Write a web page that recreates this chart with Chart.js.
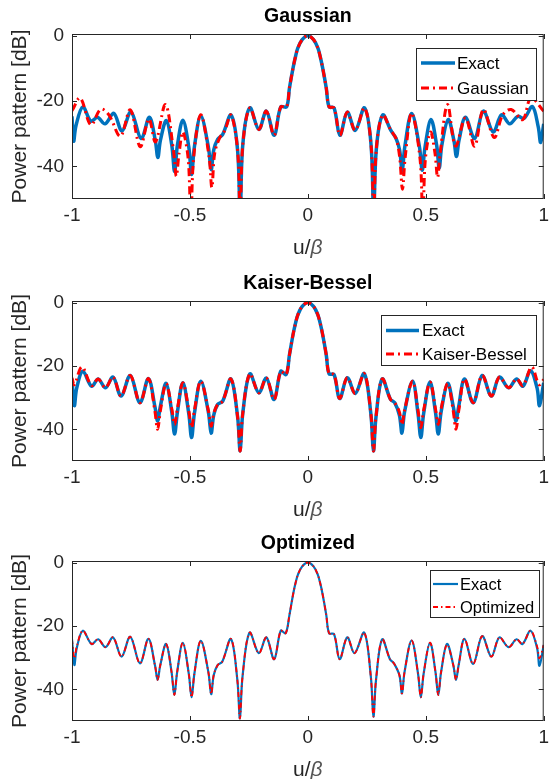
<!DOCTYPE html>
<html>
<head>
<meta charset="utf-8">
<script src="https://cdn.jsdelivr.net/npm/chart.js@4.4.1/dist/chart.umd.min.js"></script>
<style>
  html, body { margin: 0; padding: 0; background: #fff; }
  #wrap { position: relative; width: 554px; height: 779px; }
  canvas { position: absolute; left: 0; }
</style>
</head>
<body>
<div id="wrap">
  <canvas id="cGauss" width="554" height="262" style="top:0px"></canvas>
  <canvas id="cKaiser" width="554" height="260" style="top:262px"></canvas>
  <canvas id="cOpt" width="554" height="257" style="top:522px"></canvas>
</div>
<script>
// tick values (u/beta and dB)
const uTicks = [-1, -0.5, 0, 0.5, 1];
const dbTicks = [-40, -20, 0];

// [u/beta, dB]
const gaussExact = [
  [-1.000,-24.7],[-0.993,-32.3],[-0.983,-27.5],[-0.954,-21.8],[-0.920,-26.2],[-0.892,-25.0],
  [-0.860,-27.0],[-0.823,-23.8],[-0.788,-29.2],[-0.750,-23.3],[-0.707,-31.5],[-0.672,-25.0],
  [-0.647,-32.0],[-0.636,-37.3],[-0.625,-32.0],[-0.600,-26.0],[-0.577,-33.5],[-0.565,-41.6],
  [-0.553,-33.5],[-0.530,-25.9],[-0.505,-34.0],[-0.493,-42.5],[-0.481,-34.0],[-0.454,-24.6],
  [-0.422,-34.0],[-0.410,-41.0],[-0.399,-35.0],[-0.382,-31.7],[-0.361,-30.2],[-0.326,-24.3],
  [-0.298,-35.0],[-0.287,-56.0],[-0.276,-33.5],[-0.246,-22.1],[-0.208,-28.7],[-0.176,-23.1],
  [-0.143,-30.5],[-0.115,-21.8],[-0.090,-21.8],[-0.078,-16.0],[-0.0625,-9.8],[-0.052,-6.3],
  [-0.042,-3.7],[-0.024,-1.2],[0,0],[0.024,-1.2],[0.042,-3.7],[0.052,-6.3],[0.0625,-9.8],
  [0.078,-16.0],[0.090,-21.8],[0.111,-22.1],[0.136,-30.5],[0.167,-23.4],[0.201,-29.0],
  [0.240,-22.1],[0.268,-33.5],[0.279,-56.0],[0.290,-35.0],[0.317,-24.3],[0.352,-29.0],
  [0.374,-31.5],[0.389,-35.0],[0.400,-41.4],[0.411,-34.0],[0.440,-23.8],[0.473,-34.0],
  [0.485,-41.2],[0.497,-34.0],[0.522,-25.7],[0.546,-33.5],[0.557,-40.5],[0.568,-33.5],
  [0.595,-25.7],[0.619,-32.0],[0.630,-37.0],[0.641,-32.0],[0.668,-25.0],[0.707,-31.5],
  [0.744,-23.1],[0.786,-29.5],[0.821,-24.2],[0.856,-27.0],[0.890,-24.7],[0.917,-25.3],
  [0.952,-21.7],[0.977,-28.0],[0.987,-32.7],[1.000,-27.0]
];
const gaussApprox = [
  [-1.000,-23.0],[-0.965,-19.1],[-0.920,-27.3],[-0.878,-22.5],[-0.843,-24.3],[-0.795,-30.8],
  [-0.753,-22.7],[-0.711,-34.0],[-0.674,-25.5],[-0.646,-32.5],
  [-0.604,-21.1],[-0.570,-35.0],[-0.558,-43.0],[-0.546,-36.0],[-0.530,-29.5],[-0.507,-38.0],
  [-0.496,-58.0],[-0.485,-38.0],[-0.454,-24.2],[-0.419,-37.0],[-0.407,-46.5],[-0.395,-36.0],
  [-0.374,-31.3],[-0.352,-29.0],[-0.326,-24.3],[-0.298,-35.0],[-0.287,-56.0],[-0.276,-33.5],
  [-0.246,-22.1],[-0.208,-28.7],[-0.176,-23.1],[-0.143,-30.5],[-0.115,-21.8],[-0.090,-21.8],
  [-0.078,-16.0],[-0.0625,-9.8],[-0.052,-6.3],[-0.042,-3.7],[-0.024,-1.2],[0,0],[0.024,-1.2],
  [0.042,-3.7],[0.052,-6.3],[0.0625,-9.8],[0.078,-16.0],[0.090,-21.8],[0.111,-22.1],
  [0.136,-30.5],[0.167,-23.4],[0.201,-29.0],[0.240,-22.1],[0.268,-33.5],[0.279,-56.0],
  [0.290,-35.0],[0.317,-24.3],[0.352,-29.0],[0.374,-31.5],[0.389,-37.0],[0.401,-47.0],
  [0.413,-37.0],[0.440,-23.7],[0.476,-38.0],[0.487,-58.0],[0.498,-38.0],[0.520,-29.5],
  [0.539,-36.0],[0.550,-43.4],[0.561,-36.0],[0.592,-21.1],[0.626,-33.8],[0.668,-25.2],
  [0.707,-33.8],[0.744,-22.6],[0.790,-31.2],[0.826,-24.3],[0.862,-22.6],[0.911,-25.7],
  [0.946,-19.1],[1.000,-23.1]
];

const kaiserExact = [
  [-1.000,-24.3],[-0.990,-32.5],[-0.980,-27.0],[-0.954,-21.7],[-0.917,-26.4],[-0.889,-24.1],
  [-0.858,-26.9],[-0.826,-23.5],[-0.792,-29.5],[-0.753,-23.0],[-0.712,-31.6],[-0.676,-24.0],
  [-0.648,-33.0],[-0.637,-37.4],[-0.626,-33.0],[-0.601,-25.5],[-0.577,-34.5],[-0.565,-41.5],
  [-0.553,-34.5],[-0.530,-25.3],[-0.505,-35.0],[-0.493,-42.6],[-0.481,-35.0],[-0.454,-24.8],
  [-0.422,-34.5],[-0.410,-41.2],[-0.399,-35.5],[-0.382,-32.1],[-0.361,-31.1],[-0.326,-24.1],
  [-0.298,-36.0],[-0.287,-46.8],[-0.276,-35.0],[-0.246,-22.5],[-0.208,-28.5],[-0.176,-23.8],
  [-0.143,-30.6],[-0.115,-21.7],[-0.092,-22.7],[-0.078,-16.5],[-0.0625,-10.0],[-0.052,-6.4],
  [-0.042,-3.8],[-0.024,-1.2],[0,0],[0.024,-1.2],[0.042,-3.8],[0.052,-6.4],[0.0625,-10.0],
  [0.078,-16.5],[0.090,-22.5],[0.111,-22.7],[0.135,-30.3],[0.167,-23.7],[0.201,-28.7],
  [0.239,-22.4],[0.267,-35.0],[0.278,-46.8],[0.289,-36.0],[0.315,-24.1],[0.350,-30.5],
  [0.368,-31.6],[0.388,-35.5],[0.399,-41.2],[0.410,-34.5],[0.444,-24.8],[0.467,-35.0],
  [0.479,-42.6],[0.491,-35.0],[0.518,-25.1],[0.541,-34.5],[0.553,-41.5],[0.565,-34.5],
  [0.593,-25.5],[0.617,-33.0],[0.628,-37.4],[0.639,-33.0],[0.664,-24.1],[0.701,-31.6],
  [0.739,-23.0],[0.778,-29.5],[0.812,-23.5],[0.851,-26.9],[0.885,-24.1],[0.912,-26.4],
  [0.944,-21.5],[0.972,-27.0],[0.982,-32.5],[1.000,-25.3]
];
const kaiserApprox = [
  [-1.000,-23.8],[-0.990,-25.9],[-0.958,-20.3],[-0.917,-26.2],[-0.889,-24.1],
  [-0.858,-26.9],[-0.826,-23.5],[-0.792,-29.5],[-0.753,-23.0],[-0.712,-31.6],[-0.676,-24.0],
  [-0.649,-34.0],[-0.637,-40.0],[-0.625,-34.0],[-0.601,-25.5],[-0.577,-33.5],[-0.565,-38.5],
  [-0.553,-33.5],[-0.530,-25.3],[-0.505,-34.0],[-0.493,-39.5],[-0.481,-34.0],[-0.454,-24.8],
  [-0.422,-34.0],[-0.410,-39.0],[-0.399,-35.0],[-0.382,-32.1],[-0.361,-31.1],[-0.326,-24.1],
  [-0.298,-36.0],[-0.287,-46.8],[-0.276,-35.0],[-0.246,-22.5],[-0.208,-28.5],[-0.176,-23.8],
  [-0.143,-30.6],[-0.115,-21.7],[-0.092,-22.7],[-0.078,-16.5],[-0.0625,-10.0],[-0.052,-6.4],
  [-0.042,-3.8],[-0.024,-1.2],[0,0],[0.024,-1.2],[0.042,-3.8],[0.052,-6.4],[0.0625,-10.0],
  [0.078,-16.5],[0.090,-22.5],[0.111,-22.7],[0.135,-30.3],[0.167,-23.7],[0.201,-28.7],
  [0.239,-22.4],[0.267,-35.0],[0.278,-46.8],[0.289,-36.0],[0.315,-24.1],[0.350,-30.5],
  [0.368,-31.6],[0.388,-34.5],[0.399,-38.5],[0.410,-34.0],[0.444,-24.8],[0.467,-34.0],
  [0.479,-39.5],[0.491,-34.0],[0.518,-25.1],[0.541,-33.5],[0.553,-38.5],[0.565,-33.5],
  [0.593,-25.5],[0.616,-34.0],[0.628,-40.0],[0.640,-34.0],[0.664,-24.1],[0.701,-31.6],
  [0.739,-23.0],[0.778,-29.5],[0.812,-23.5],[0.851,-26.9],[0.885,-24.1],[0.912,-26.2],
  [0.949,-20.3],[0.980,-25.9],[1.000,-24.3]
];

const optExact = [
  [-1.000,-24.2],[-0.990,-32.3],[-0.980,-27.0],[-0.954,-21.5],[-0.917,-25.7],[-0.889,-24.2],
  [-0.858,-26.7],[-0.826,-23.6],[-0.790,-29.7],[-0.753,-23.4],[-0.712,-31.8],[-0.676,-24.1],
  [-0.648,-32.5],[-0.637,-37.0],[-0.626,-32.5],[-0.601,-25.7],[-0.578,-34.5],[-0.566,-41.8],
  [-0.554,-34.5],[-0.530,-25.3],[-0.505,-35.0],[-0.493,-42.5],[-0.481,-35.0],[-0.454,-24.7],
  [-0.422,-34.5],[-0.410,-41.5],[-0.399,-35.5],[-0.382,-32.3],[-0.363,-31.3],[-0.326,-24.1],
  [-0.299,-37.0],[-0.288,-49.2],[-0.277,-36.0],[-0.247,-22.1],[-0.208,-28.6],[-0.176,-23.6],
  [-0.143,-30.5],[-0.115,-21.5],[-0.094,-22.3],[-0.078,-16.5],[-0.0625,-10.0],[-0.052,-6.4],
  [-0.042,-3.8],[-0.024,-1.2],[0,0],[0.024,-1.2],[0.042,-3.8],[0.052,-6.4],[0.0625,-10.0],
  [0.078,-16.5],[0.090,-22.3],[0.111,-22.6],[0.135,-30.5],[0.167,-23.6],[0.198,-28.6],
  [0.239,-22.1],[0.267,-36.0],[0.278,-48.6],[0.289,-37.0],[0.315,-24.2],[0.348,-30.5],
  [0.365,-31.8],[0.388,-35.5],[0.399,-41.3],[0.410,-34.5],[0.440,-24.6],[0.467,-35.0],
  [0.479,-42.5],[0.491,-35.0],[0.518,-25.3],[0.541,-34.5],[0.553,-41.8],[0.565,-34.5],
  [0.590,-25.7],[0.617,-32.5],[0.628,-37.0],[0.639,-32.5],[0.664,-24.1],[0.701,-32.0],
  [0.739,-23.2],[0.778,-29.7],[0.812,-23.6],[0.851,-26.7],[0.885,-24.2],[0.910,-25.7],
  [0.944,-21.5],[0.972,-27.0],[0.982,-32.6],[1.000,-26.0]
];
const optApprox = [
  [-1.000,-24.2],[-0.990,-30.2],[-0.980,-26.5],[-0.954,-21.5],[-0.917,-25.7],[-0.889,-24.2],
  [-0.858,-26.7],[-0.826,-23.6],[-0.790,-29.7],[-0.753,-23.4],[-0.712,-31.8],[-0.676,-24.1],
  [-0.648,-32.5],[-0.637,-37.0],[-0.626,-32.5],[-0.601,-25.7],[-0.578,-34.5],[-0.566,-41.8],
  [-0.554,-34.5],[-0.530,-25.3],[-0.505,-35.0],[-0.493,-42.5],[-0.481,-35.0],[-0.454,-24.7],
  [-0.422,-34.5],[-0.410,-41.5],[-0.399,-35.5],[-0.382,-32.3],[-0.363,-31.3],[-0.326,-24.1],
  [-0.299,-37.0],[-0.288,-49.2],[-0.277,-36.0],[-0.247,-22.1],[-0.208,-28.6],[-0.176,-23.6],
  [-0.143,-30.5],[-0.115,-21.5],[-0.094,-22.3],[-0.078,-16.5],[-0.0625,-10.0],[-0.052,-6.4],
  [-0.042,-3.8],[-0.024,-1.2],[0,0],[0.024,-1.2],[0.042,-3.8],[0.052,-6.4],[0.0625,-10.0],
  [0.078,-16.5],[0.090,-22.3],[0.111,-22.6],[0.135,-30.5],[0.167,-23.6],[0.198,-28.6],
  [0.239,-22.1],[0.267,-36.0],[0.278,-48.6],[0.289,-37.0],[0.315,-24.2],[0.348,-30.5],
  [0.365,-31.8],[0.388,-35.5],[0.399,-41.3],[0.410,-34.5],[0.440,-24.6],[0.467,-35.0],
  [0.479,-42.5],[0.491,-35.0],[0.518,-25.3],[0.541,-34.5],[0.553,-41.8],[0.565,-34.5],
  [0.590,-25.9],[0.617,-32.5],[0.628,-37.0],[0.639,-32.5],[0.664,-24.1],[0.701,-32.0],
  [0.739,-23.2],[0.778,-29.7],[0.812,-23.6],[0.851,-26.7],[0.885,-24.2],[0.910,-25.7],
  [0.944,-21.5],[0.972,-26.5],[0.982,-30.2],[1.000,-26.0]
];

const FONT = "'Liberation Sans', Arial, Helvetica, sans-serif";
const AXIS = '#262626';
const BLUE = '#0072BD';
const RED = '#FF0000';

// box, inward ticks, title, axis labels and legend, all placed from the chart area
const matlabLook = {
  id: 'matlabLook',
  afterDraw(chart, args, o) {
    const { ctx, chartArea: a, scales: { x, y } } = chart;
    ctx.save();
    ctx.strokeStyle = AXIS;
    ctx.lineWidth = 1;
    ctx.strokeRect(a.left + 0.5, a.top + 0.5, a.right - a.left - 1, a.bottom - a.top - 1);
    ctx.beginPath();
    x.ticks.forEach(t => {
      const px = Math.round(x.getPixelForValue(t.value)) + 0.5;
      ctx.moveTo(px, a.bottom); ctx.lineTo(px, a.bottom - 5);
      ctx.moveTo(px, a.top); ctx.lineTo(px, a.top + 5);
    });
    y.ticks.forEach(t => {
      const py = Math.round(y.getPixelForValue(t.value)) + 0.5;
      ctx.moveTo(a.left, py); ctx.lineTo(a.left + 5, py);
      ctx.moveTo(a.right, py); ctx.lineTo(a.right - 5, py);
    });
    ctx.stroke();

    const cx = (a.left + a.right) / 2;
    // title
    ctx.fillStyle = '#000';
    ctx.font = 'bold 19.5px ' + FONT;
    ctx.textAlign = 'center';
    ctx.textBaseline = 'middle';
    ctx.fillText(o.title, cx, a.top - 17);

    // x label: u/β with italic beta
    ctx.fillStyle = AXIS;
    ctx.font = '21px ' + FONT;
    const w1 = ctx.measureText('u/').width;
    ctx.font = 'italic 21px ' + FONT;
    const w2 = ctx.measureText('β').width;
    const sx = cx - (w1 + w2) / 2;
    ctx.textAlign = 'left';
    ctx.font = '21px ' + FONT;
    ctx.fillText('u/', sx, a.bottom + 49);
    ctx.fillStyle = '#555';
    ctx.font = 'italic 21px ' + FONT;
    ctx.fillText('β', sx + w1, a.bottom + 49);

    // y label
    ctx.fillStyle = AXIS;
    ctx.font = '21px ' + FONT;
    ctx.textAlign = 'center';
    ctx.translate(20, (a.top + a.bottom) / 2);
    ctx.rotate(-Math.PI / 2);
    ctx.fillText('Power pattern [dB]', 0, 0);
    ctx.setTransform(1, 0, 0, 1, 0, 0);

    // legend
    const L = o.legend;
    ctx.fillStyle = '#fff';
    ctx.fillRect(L.box[0], L.box[1], L.box[2], L.box[3]);
    ctx.strokeStyle = AXIS;
    ctx.strokeRect(L.box[0] + 0.5, L.box[1] + 0.5, L.box[2], L.box[3]);
    chart.data.datasets.slice().reverse().forEach((ds, i) => {
      const ry = L.rows[i];
      ctx.strokeStyle = ds.borderColor;
      ctx.lineWidth = ds.borderWidth;
      ctx.setLineDash(ds.borderDash || []);
      ctx.beginPath();
      ctx.moveTo(L.line[0], ry); ctx.lineTo(L.line[1], ry);
      ctx.stroke();
      ctx.setLineDash([]);
      ctx.fillStyle = '#000';
      ctx.font = L.size + 'px ' + FONT;
      ctx.textAlign = 'left';
      ctx.textBaseline = 'middle';
      ctx.fillText(ds.label, L.text, ry + 1);
    });
    ctx.restore();
  }
};

function drawPanel(id, title, exact, approx, approxName, look) {
  const el = document.getElementById(id);
  const h = el.height;
  return new Chart(el, {
    type: 'line',
    data: {
      datasets: [
        {
          label: approxName,
          data: approx.map(p => ({ x: p[0], y: p[1] })),
          borderColor: RED,
          borderWidth: look.redW,
          borderDash: look.dash,
          tension: 0.35,
          pointRadius: 0,
          order: 1
        },
        {
          label: 'Exact',
          data: exact.map(p => ({ x: p[0], y: p[1] })),
          borderColor: BLUE,
          borderWidth: look.blueW,
          tension: 0.35,
          pointRadius: 0,
          order: 2
        }
      ]
    },
    options: {
      responsive: false,
      animation: false,
      events: [],
      layout: { padding: { top: look.top, right: 3, left: 0, bottom: 0 } },
      plugins: {
        legend: { display: false },
        tooltip: { enabled: false },
        matlabLook: { title: title, legend: look.legend }
      },
      scales: {
        x: {
          type: 'linear', min: -1, max: 1,
          grid: { display: false, drawTicks: false },
          border: { display: false },
          ticks: { font: { family: FONT, size: 19 }, color: AXIS, padding: 5, maxRotation: 0,
                   callback: v => String(v) },
          afterBuildTicks: s => { s.ticks = uTicks.map(v => ({ value: v })); },
          afterFit: s => { s.height = h - 199; }
        },
        y: {
          min: -50, max: 0.5,
          grid: { display: false, drawTicks: false },
          border: { display: false },
          ticks: { font: { family: FONT, size: 19 }, color: AXIS, padding: 8,
                   callback: v => String(v) },
          afterBuildTicks: s => { s.ticks = dbTicks.map(v => ({ value: v })); },
          afterFit: s => { s.width = 72; }
        }
      }
    },
    plugins: [matlabLook]
  });
}

drawPanel('cGauss', 'Gaussian', gaussExact, gaussApprox, 'Gaussian', {
  top: 34, blueW: 3.5, redW: 3, dash: [8, 4, 2, 4],
  legend: { box: [416, 48, 120, 52], rows: [63, 88], line: [421, 455], text: 457, size: 17 }
});
drawPanel('cKaiser', 'Kaiser-Bessel', kaiserExact, kaiserApprox, 'Kaiser-Bessel', {
  top: 39, blueW: 3.5, redW: 3, dash: [8, 4, 2, 4],
  legend: { box: [381, 53, 155, 50], rows: [68.5, 92], line: [386, 419], text: 422, size: 17 }
});
drawPanel('cOpt', 'Optimized', optExact, optApprox, 'Optimized', {
  top: 39, blueW: 2.2, redW: 1.8, dash: [5, 3, 1.5, 3],
  legend: { box: [430, 48, 109, 47], rows: [62, 85], line: [433, 458], text: 460, size: 16.5 }
});
</script>
</body>
</html>
